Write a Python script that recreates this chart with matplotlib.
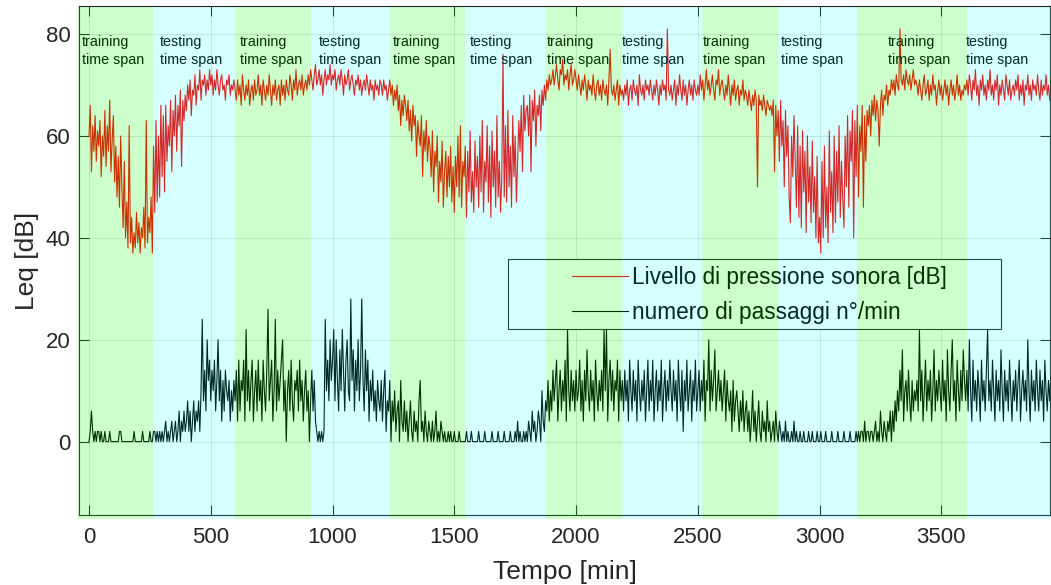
import numpy as np
import matplotlib
matplotlib.use("Agg")
import matplotlib.pyplot as plt
from matplotlib.patches import Rectangle

plt.rcParams['font.family'] = ['Liberation Sans', 'DejaVu Sans']

# sample step of the values below (min)
step = 5

# Leq [dB], one value every 5 min (one row = 100 min)
leq = [
    60, 66, 53, 62, 57, 64, 55, 61, 58, 63, 52, 60, 56, 65, 54, 62, 57, 67, 53, 59,
    64, 51, 58, 48, 56, 46, 60, 50, 42, 55, 40, 47, 38, 62, 39, 44, 37, 41, 38, 45,
    39, 43, 37, 42, 40, 46, 38, 63, 39, 44, 41, 48, 37, 58, 45, 63, 47, 60, 48, 66,
    52, 64, 49, 66, 55, 62, 58, 67, 53, 65, 60, 68, 57, 66, 62, 69, 54, 67, 63, 68,
    65, 70, 67, 71, 64, 69, 68, 72, 66, 70, 69, 73, 67, 71, 70, 72, 68, 71, 69, 73,
    70, 72, 68, 71, 69, 73, 70, 68, 71, 72, 69, 70, 67, 71, 70, 72, 68, 70, 69, 71,
    69, 67, 71, 68, 70, 66, 72, 69, 67, 70, 68, 71, 66, 69, 70, 67, 71, 68, 69, 72,
    68, 70, 66, 71, 69, 67, 70, 68, 72, 69, 66, 70, 68, 71, 67, 69, 70, 66, 71, 68,
    70, 67, 71, 69, 68, 72, 70, 67, 71, 69, 73, 68, 70, 71, 69, 72, 68, 70, 71, 69,
    72, 70, 73, 71, 69, 72, 74, 70, 71, 73, 70, 72, 68, 71, 73, 70, 72, 71, 74, 70,
    72, 71, 73, 69, 71, 72, 70, 73, 71, 68, 72, 70, 71, 73, 69, 71, 72, 70, 68, 71,
    70, 72, 69, 71, 68, 70, 71, 69, 72, 70, 68, 71, 69, 70, 67, 71, 69, 70, 68, 71,
    70, 68, 71, 69, 70, 67, 69, 71, 68, 70, 66, 69, 67, 70, 65, 68, 62, 67, 64, 68,
    66, 63, 67, 61, 65, 59, 66, 62, 64, 56, 63, 60, 58, 64, 52, 61, 57, 63, 55, 60,
    58, 52, 61, 49, 57, 54, 60, 47, 55, 51, 59, 46, 53, 57, 48, 56, 50, 58, 47, 54,
    45, 56, 50, 60, 48, 62, 46, 55, 52, 58, 44, 57, 49, 61, 47, 53, 45, 59, 50, 56,
    46, 60, 49, 63, 45, 55, 51, 62, 47, 58, 44, 61, 50, 57, 46, 64, 48, 55, 45, 52,
    76, 48, 62, 47, 65, 50, 58, 46, 64, 52, 60, 47, 55, 63, 57, 66, 53, 68, 61, 65,
    66, 60, 68, 53, 67, 63, 69, 58, 66, 64, 68, 61, 69, 66, 70, 67, 71, 69, 72, 70,
    71, 73, 70, 72, 74, 71, 69, 73, 72, 75, 70, 72, 71, 73, 69, 72, 74, 70, 71, 73,
    71, 69, 72, 70, 68, 71, 69, 72, 70, 67, 71, 69, 70, 68, 72, 69, 67, 70, 71, 68,
    70, 67, 71, 69, 68, 70, 66, 71, 77, 69, 68, 70, 67, 69, 71, 66, 70, 68, 69, 67,
    70, 68, 71, 66, 69, 70, 67, 71, 69, 68, 70, 66, 72, 69, 68, 70, 67, 71, 69, 70,
    68, 71, 69, 67, 70, 68, 71, 69, 66, 70, 68, 71, 69, 70, 67, 81, 69, 68, 70, 67,
    69, 71, 66, 70, 68, 72, 69, 67, 71, 68, 70, 66, 69, 71, 68, 70, 67, 71, 69, 68,
    70, 68, 72, 69, 71, 67, 70, 73, 69, 71, 68, 70, 72, 69, 67, 71, 70, 73, 68, 70,
    71, 69, 67, 70, 68, 72, 69, 66, 70, 68, 71, 67, 69, 70, 66, 69, 68, 71, 67, 69,
    68, 66, 69, 67, 65, 68, 66, 69, 67, 50, 68, 66, 67, 65, 68, 66, 64, 67, 66, 65,
    66, 64, 67, 53, 66, 60, 65, 55, 67, 58, 63, 50, 65, 56, 62, 48, 43, 60, 52, 64,
    55, 46, 62, 44, 58, 42, 61, 49, 57, 41, 60, 47, 54, 43, 59, 45, 52, 40, 56, 39,
    44, 37, 55, 40, 58, 42, 50, 39, 61, 45, 53, 41, 60, 43, 57, 47, 62, 44, 55, 48,
    42, 60, 50, 64, 46, 61, 55, 65, 40, 63, 52, 66, 48, 62, 57, 66, 46, 64, 55, 65,
    62, 66, 60, 67, 64, 68, 63, 67, 65, 58, 66, 69, 64, 68, 67, 70, 66, 69, 68, 71,
    69, 71, 68, 72, 70, 69, 81, 71, 70, 72, 69, 73, 71, 70, 72, 69, 71, 73, 70, 71,
    70, 68, 71, 69, 67, 70, 72, 68, 69, 71, 67, 70, 68, 72, 69, 70, 66, 69, 71, 68,
    70, 67, 69, 71, 68, 70, 66, 69, 71, 68, 70, 67, 69, 72, 68, 70, 67, 69, 68, 70,
    69, 71, 68, 72, 70, 67, 71, 69, 73, 68, 70, 66, 71, 69, 72, 68, 70, 67, 71, 69,
    73, 68, 70, 67, 71, 69, 72, 66, 70, 68, 71, 69, 67, 72, 70, 68, 71, 67, 69, 70,
    68, 71, 69, 72, 67, 70, 68, 71, 66, 70, 69, 72, 68, 70, 67, 71, 69, 70, 68, 72,
    69, 67, 71, 68, 70, 69, 72, 68, 70, 67, 69,
]

# numero di passaggi per minute, same sampling
passaggi = [
    0, 2, 6, 2, 0, 2, 0, 2, 2, 0, 2, 0, 0, 2, 0, 0, 0, 2, 0, 0,
    0, 0, 0, 0, 0, 2, 2, 0, 0, 0, 0, 0, 0, 0, 0, 0, 0, 2, 0, 0,
    0, 0, 0, 0, 2, 0, 0, 0, 0, 0, 2, 0, 0, 2, 2, 0, 2, 0, 2, 0,
    2, 0, 2, 4, 0, 2, 0, 2, 4, 0, 2, 4, 0, 2, 6, 0, 4, 2, 6, 2,
    4, 8, 2, 6, 0, 4, 8, 2, 6, 4, 8, 2, 10, 24, 8, 14, 6, 20, 12, 16,
    8, 14, 10, 16, 6, 12, 20, 8, 14, 4, 12, 6, 14, 10, 8, 12, 4, 10, 6, 12,
    8, 14, 4, 16, 6, 12, 10, 16, 4, 22, 8, 14, 6, 12, 16, 4, 10, 14, 6, 16,
    8, 12, 4, 16, 10, 6, 14, 26, 8, 12, 16, 4, 10, 24, 6, 14, 8, 12, 16, 20,
    6, 12, 0, 10, 14, 6, 16, 8, 4, 12, 10, 14, 6, 16, 8, 12, 4, 10, 14, 6,
    10, 0, 8, 14, 6, 12, 4, 2, 0, 2, 0, 2, 0, 2, 24, 10, 16, 8, 20, 12,
    16, 22, 8, 20, 12, 6, 18, 10, 22, 14, 6, 16, 20, 10, 8, 28, 12, 18, 6, 16,
    10, 20, 8, 14, 28, 12, 6, 18, 10, 16, 4, 12, 8, 14, 6, 10, 4, 12, 8, 6,
    12, 4, 10, 14, 2, 8, 6, 12, 0, 8, 4, 10, 2, 6, 8, 0, 12, 4, 2, 8,
    2, 6, 0, 4, 8, 2, 0, 6, 2, 4, 0, 8, 12, 2, 4, 0, 6, 2, 0, 4,
    2, 0, 4, 0, 2, 6, 0, 2, 0, 4, 2, 0, 2, 0, 0, 2, 0, 2, 0, 0,
    2, 0, 0, 0, 2, 0, 0, 0, 0, 0, 2, 0, 0, 0, 2, 0, 0, 0, 0, 0,
    2, 0, 0, 0, 0, 2, 0, 0, 0, 0, 0, 2, 0, 0, 0, 0, 2, 0, 0, 0,
    0, 2, 0, 0, 0, 0, 2, 0, 0, 0, 2, 0, 4, 0, 2, 0, 0, 2, 0, 2,
    0, 4, 2, 0, 6, 2, 4, 0, 2, 6, 4, 0, 10, 4, 2, 8, 6, 12, 4, 10,
    6, 14, 8, 12, 16, 4, 10, 14, 6, 12, 8, 16, 4, 22, 10, 6, 14, 8, 12, 6,
    14, 8, 10, 16, 6, 12, 4, 14, 8, 18, 10, 6, 14, 8, 12, 4, 16, 10, 6, 12,
    8, 14, 6, 22, 10, 22, 4, 12, 16, 8, 14, 6, 12, 10, 16, 4, 14, 8, 12, 6,
    14, 8, 12, 4, 16, 10, 6, 14, 8, 12, 4, 16, 10, 6, 12, 8, 14, 4, 10, 16,
    6, 12, 8, 16, 4, 10, 14, 6, 12, 8, 16, 4, 10, 14, 6, 12, 8, 16, 10, 6,
    14, 8, 12, 4, 16, 10, 6, 14, 2, 12, 8, 16, 6, 10, 14, 4, 12, 8, 16, 6,
    10, 14, 6, 12, 8, 16, 4, 12, 10, 20, 6, 14, 8, 12, 18, 6, 10, 14, 8, 12,
    6, 10, 14, 4, 12, 8, 6, 10, 2, 12, 4, 8, 10, 6, 2, 8, 4, 10, 2, 6,
    8, 2, 6, 0, 4, 10, 2, 6, 0, 4, 8, 2, 0, 6, 2, 4, 0, 8, 2, 4,
    0, 2, 4, 0, 6, 2, 0, 4, 2, 0, 2, 0, 4, 0, 2, 0, 0, 2, 0, 4,
    0, 2, 0, 0, 2, 0, 0, 2, 0, 0, 0, 2, 0, 0, 2, 0, 0, 0, 2, 0,
    0, 2, 0, 0, 0, 2, 0, 0, 0, 0, 2, 0, 0, 0, 0, 2, 0, 0, 0, 0,
    2, 0, 0, 0, 0, 2, 0, 0, 0, 0, 2, 0, 2, 0, 2, 2, 0, 4, 0, 2,
    2, 0, 2, 2, 0, 2, 4, 0, 2, 0, 6, 2, 0, 4, 2, 0, 4, 2, 6, 0,
    6, 2, 8, 4, 10, 6, 14, 8, 18, 4, 10, 12, 6, 14, 8, 4, 12, 6, 10, 8,
    12, 6, 22, 8, 14, 4, 10, 16, 6, 12, 8, 14, 4, 10, 18, 6, 12, 8, 14, 10,
    6, 16, 8, 12, 4, 18, 10, 6, 14, 20, 8, 12, 4, 16, 10, 6, 14, 8, 18, 12,
    8, 14, 6, 20, 10, 4, 16, 8, 12, 6, 14, 10, 4, 16, 8, 12, 6, 14, 22, 8,
    12, 6, 16, 10, 4, 14, 8, 12, 6, 18, 10, 4, 14, 8, 12, 6, 16, 10, 4, 12,
    8, 14, 6, 12, 16, 4, 10, 14, 8, 12, 6, 20, 10, 4, 14, 8, 12, 6, 16, 10,
    6, 14, 8, 12, 4, 16, 10, 6, 12, 8, 14,
]

# training / testing spans (start, end in min)
span_edges = [-45, 264, 600, 912, 1236, 1544, 1877, 2187, 2517, 2828, 3154, 3606, 3990]
span_names = ['training', 'testing'] * 6
label_x = [-29, 292, 620, 945, 1248, 1565, 1881, 2189, 2522, 2842, 3281, 3602]

fig = plt.figure(figsize=(10.51, 5.85), dpi=100)
ax = fig.add_axes([0.0752, 0.1197, 0.9238, 0.8700])

ax.plot(np.arange(len(leq)) * step, leq, color='#ff0000', lw=0.8,
        label='Livello di pressione sonora [dB]')
ax.plot(np.arange(len(passaggi)) * step, passaggi, color='black', lw=0.8,
        label='numero di passaggi n°/min')

for i in range(len(span_names)):
    ax.text(label_x[i], 79.9, span_names[i] + '\ntime span', fontsize=10.3,
            va='top', ha='left', linespacing=1.4, color='black', zorder=4)

ax.set_xlim(-41, 3946)
ax.set_ylim(-14.4, 85.5)
ax.set_xticks([0, 500, 1000, 1500, 2000, 2500, 3000, 3500])
ax.set_yticks([0, 20, 40, 60, 80])
ax.tick_params(direction='in', length=7.5, width=0.8, top=True, right=True,
               labelsize=16, colors='#262626')
ax.tick_params(axis='x', pad=9)
ax.tick_params(axis='y', pad=6)
ax.grid(True, color='#262626', alpha=0.15, lw=0.6)
for s in ax.spines.values():
    s.set_color('#262626')
    s.set_linewidth(0.8)

ax.set_xlabel('Tempo [min]', fontsize=19, color='#262626', labelpad=8)
ax.set_ylabel('Leq [dB]', fontsize=19, color='#262626', labelpad=5)

# legend: drawn frame plus borderless legend inside it
ax.add_patch(Rectangle((0.4418, 0.3654), 0.5077, 0.1375, transform=ax.transAxes,
                       facecolor='white', edgecolor='#262626', lw=0.8, zorder=5))
leg = ax.legend(loc='center left', bbox_to_anchor=(0.4963, 0.4322), frameon=False,
                fontsize=16.3, borderpad=0, handlelength=2.45, handletextpad=0.2,
                labelspacing=0.5)
leg.set_zorder(6)

# coloured spans lie over everything, semi transparent
for i in range(len(span_names)):
    if span_names[i] == 'training':
        col, a = (0, 1, 0), 0.2
    else:
        col, a = (0, 1, 1), 0.16
    ax.add_patch(Rectangle((span_edges[i], -15.2), span_edges[i + 1] - span_edges[i], 100.45,
                           facecolor=col, alpha=a, edgecolor='none', zorder=10, clip_on=False))

fig.savefig('out.png', dpi=100)
